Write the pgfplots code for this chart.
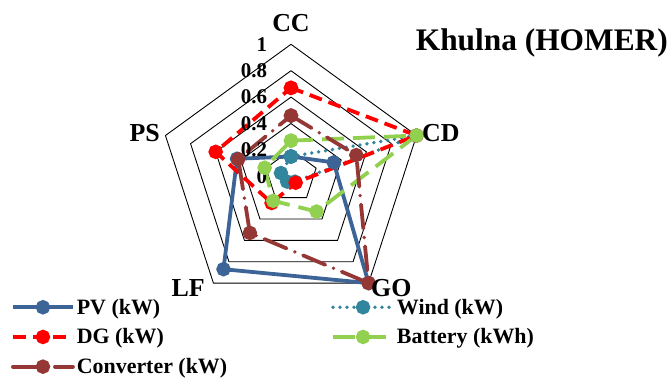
\documentclass[border=0pt]{standalone}
\usepackage{pgfplots}
\pgfplotsset{compat=1.18}
\usepackage{pgfplotstable}
\usepackage{fontspec}
\setmainfont{Liberation Serif}

\definecolor{pvblue}{HTML}{3C6497}
\definecolor{windteal}{HTML}{31859C}
\definecolor{dgred}{HTML}{FF0000}
\definecolor{battgreen}{HTML}{92D050}
\definecolor{convbrown}{HTML}{953735}

% normalised capacities per criterion (angle in degrees, radius 0..1)
\pgfplotstableread{
ang   pv    wind  dg    batt  conv
90    0.15  0.15  0.67  0.27  0.46
18    0.34  1.00  1.00  1.00  0.52
-54   1.00  0.05  0.06  0.33  1.00
-126  0.87  0.05  0.25  0.23  0.53
-198  0.43  0.08  0.60  0.21  0.42
-270  0.15  0.15  0.67  0.27  0.46
}\radar

\begin{document}
\begin{tikzpicture}
\useasboundingbox (0,0) rectangle (670bp,-380bp);
\begin{axis}[
  at={(291bp,-176.3bp)}, anchor=center,
  x=132bp, y=132bp,
  xmin=-1.3, xmax=1.3, ymin=-1.3, ymax=1.3,
  hide axis, clip=false,
  radar/.style={data cs=polar, line width=3.8bp, mark=*, mark size=5.3bp,
    mark options={solid}},
  legend columns=2,
  legend cell align=left,
  legend image code/.code={%
    \draw[mark repeat=2,mark phase=2,#1] plot coordinates {(0bp,0bp)(30bp,0bp)(60bp,0bp)};},
  legend style={at={(-0.325,0.155)}, draw=none, fill=none,
    font=\fontsize{22}{24}\selectfont\bfseries,
    anchor=north west,
    nodes={inner sep=2bp},
    row sep=9bp,
    /tikz/every even column/.append style={column sep=102bp}},
]
% pentagonal grid rings
\pgfplotsinvokeforeach{0.2,0.4,0.6,0.8,1}{
  \addplot[black, line width=0.9bp, data cs=polar, forget plot]
    coordinates {(90,#1)(18,#1)(-54,#1)(-126,#1)(-198,#1)(-270,#1)};
}
\addplot[radar, pvblue] table[x=ang, y=pv] {\radar};
\addlegendentry{PV (kW)}
\addplot[radar, windteal, line cap=round, dash pattern=on 0bp off 7bp] table[x=ang, y=wind] {\radar};
\addlegendentry{Wind (kW)}
\addplot[radar, dgred, dash pattern=on 13bp off 7bp] table[x=ang, y=dg] {\radar};
\addlegendentry{DG (kW)}
\addplot[radar, battgreen, dash pattern=on 22bp off 9bp] table[x=ang, y=batt] {\radar};
\addlegendentry{Battery (kWh)}
\addplot[radar, convbrown, line cap=round, dash pattern=on 24bp off 9bp on 0bp off 9bp] table[x=ang, y=conv] {\radar};
\addlegendentry{Converter (kW)}

% radial tick labels
\pgfplotsinvokeforeach{0,0.2,0.4,0.6,0.8,1}{
  \node[anchor=east, font=\fontsize{21}{21}\selectfont\bfseries, inner sep=0pt]
    at (axis cs:-0.18,#1) {#1};
}
\end{axis}
% criterion labels and title
\begin{scope}[every node/.style={font=\fontsize{26}{26}\selectfont\bfseries, inner sep=0pt}]
\node at (291bp,-22.7bp) {CC};
\node[anchor=west] at (422bp,-133bp) {CD};
\node[anchor=west] at (371bp,-288bp) {GO};
\node[anchor=east] at (205bp,-288bp) {LF};
\node[anchor=east] at (160bp,-133bp) {PS};
\end{scope}
\node[anchor=base east, inner sep=0pt, font=\fontsize{31.5}{32}\selectfont\bfseries]
  at (668bp,-50bp) {Khulna (HOMER)};
\end{tikzpicture}
\end{document}
